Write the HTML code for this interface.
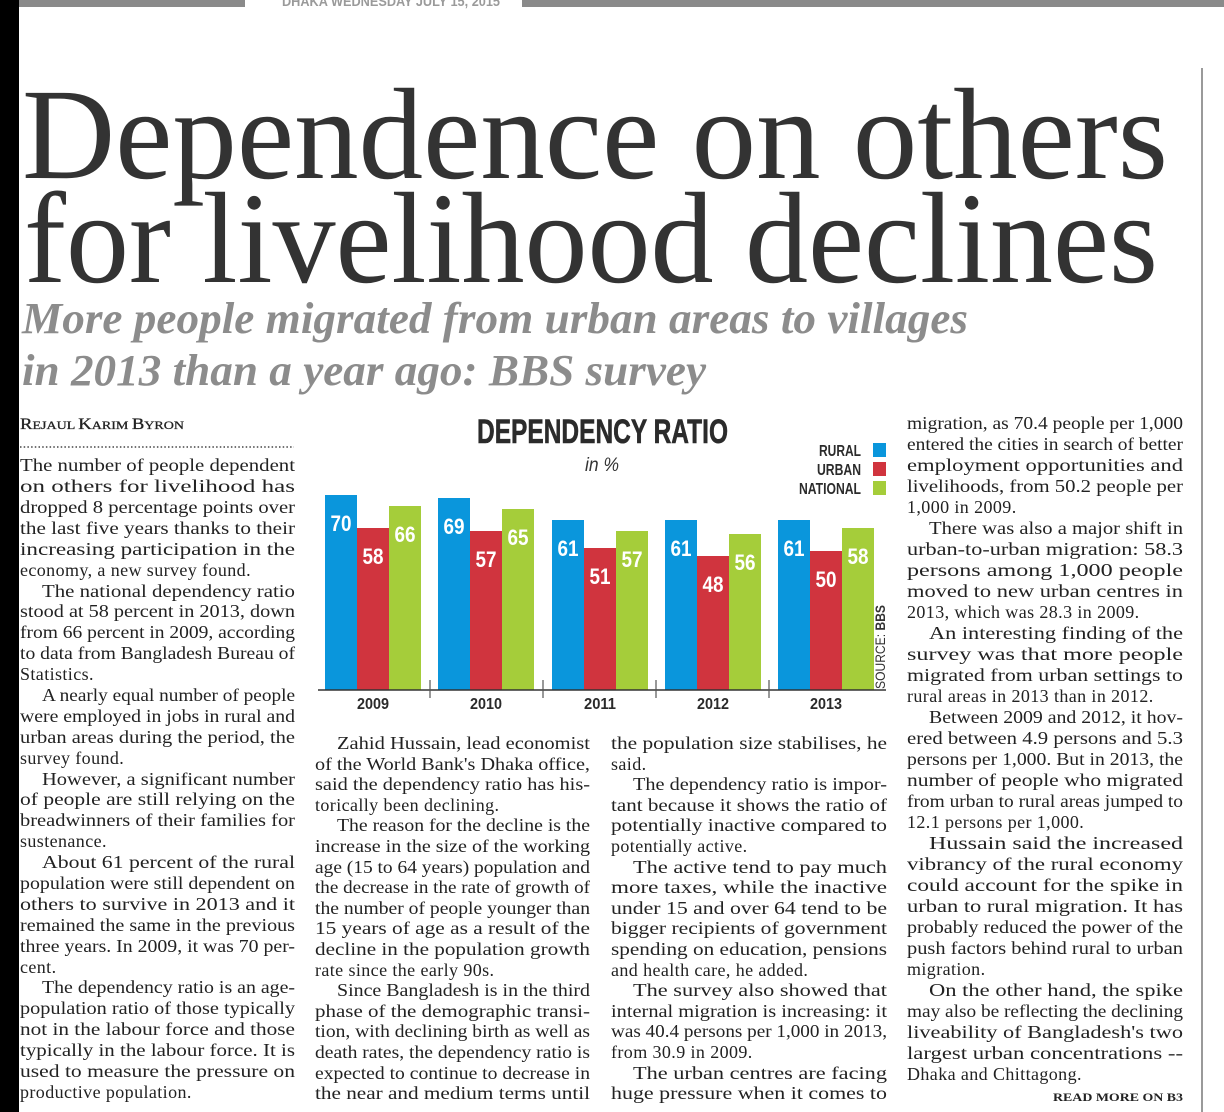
<!DOCTYPE html>
<html><head><meta charset="utf-8"><style>
html,body{margin:0;padding:0;background:#fff;}
svg{display:block;}
.b{font-family:"Liberation Serif",serif;font-size:18px;fill:#222;}
.b text.l{letter-spacing:0.4px;}
.c{font-family:"Liberation Sans",sans-serif;font-weight:bold;}
</style></head><body>
<svg width="1224" height="1112" viewBox="0 0 1224 1112" xmlns="http://www.w3.org/2000/svg">
<rect x="0" y="0" width="1224" height="1112" fill="#fff"/>
<rect x="0" y="0" width="19" height="1112" fill="#000"/>
<rect x="19" y="0" width="226" height="7" fill="#8a8a8a"/>
<rect x="522" y="0" width="702" height="7" fill="#8a8a8a"/>
<text x="282" y="6" class="c" font-size="14" fill="#9a9a9a" textLength="218" lengthAdjust="spacingAndGlyphs">DHAKA WEDNESDAY JULY 15, 2015</text>
<rect x="1201" y="68" width="2" height="1044" fill="#9a9a9a"/>

<text x="22" y="178" font-family="Liberation Serif,serif" font-size="130" fill="#333" textLength="1146" lengthAdjust="spacingAndGlyphs">Dependence on others</text>
<text x="24" y="282" font-family="Liberation Serif,serif" font-size="130" fill="#333" textLength="1134" lengthAdjust="spacingAndGlyphs">for livelihood declines</text>
<text x="22" y="333" font-family="Liberation Serif,serif" font-style="italic" font-weight="bold" font-size="44" fill="#8c8c8c" textLength="946" lengthAdjust="spacingAndGlyphs">More people migrated from urban areas to villages</text>
<text x="22" y="385" font-family="Liberation Serif,serif" font-style="italic" font-weight="bold" font-size="44" fill="#8c8c8c" textLength="684" lengthAdjust="spacingAndGlyphs">in 2013 than a year ago: BBS survey</text>

<text x="20" y="429" font-family="Liberation Serif,serif" font-size="12" fill="#222" stroke="#222" stroke-width="0.3" textLength="164" lengthAdjust="spacingAndGlyphs"><tspan font-size="16">R</tspan>EJAUL <tspan font-size="16">K</tspan>ARIM <tspan font-size="16">B</tspan>YRON</text>
<line x1="20" y1="447" x2="294" y2="447" stroke="#444" stroke-width="1.5" stroke-dasharray="1.5,2.2"/>

<g class="b">
<text x="20" y="471" textLength="275" lengthAdjust="spacingAndGlyphs">The number of people dependent</text>
<text x="20" y="492" textLength="275" lengthAdjust="spacingAndGlyphs">on others for livelihood has</text>
<text x="20" y="513" textLength="275" lengthAdjust="spacingAndGlyphs">dropped 8 percentage points over</text>
<text x="20" y="534" textLength="275" lengthAdjust="spacingAndGlyphs">the last five years thanks to their</text>
<text x="20" y="555" textLength="275" lengthAdjust="spacingAndGlyphs">increasing participation in the</text>
<text class="l" x="20" y="576">economy, a new survey found.</text>
<text x="42" y="597" textLength="253" lengthAdjust="spacingAndGlyphs">The national dependency ratio</text>
<text x="20" y="617" textLength="275" lengthAdjust="spacingAndGlyphs">stood at 58 percent in 2013, down</text>
<text x="20" y="638" textLength="275" lengthAdjust="spacingAndGlyphs">from 66 percent in 2009, according</text>
<text x="20" y="659" textLength="275" lengthAdjust="spacingAndGlyphs">to data from Bangladesh Bureau of</text>
<text class="l" x="20" y="680">Statistics.</text>
<text x="42" y="701" textLength="253" lengthAdjust="spacingAndGlyphs">A nearly equal number of people</text>
<text x="20" y="722" textLength="275" lengthAdjust="spacingAndGlyphs">were employed in jobs in rural and</text>
<text x="20" y="743" textLength="275" lengthAdjust="spacingAndGlyphs">urban areas during the period, the</text>
<text class="l" x="20" y="764">survey found.</text>
<text x="42" y="785" textLength="253" lengthAdjust="spacingAndGlyphs">However, a significant number</text>
<text x="20" y="805" textLength="275" lengthAdjust="spacingAndGlyphs">of people are still relying on the</text>
<text x="20" y="826" textLength="275" lengthAdjust="spacingAndGlyphs">breadwinners of their families for</text>
<text class="l" x="20" y="847">sustenance.</text>
<text x="42" y="868" textLength="253" lengthAdjust="spacingAndGlyphs">About 61 percent of the rural</text>
<text x="20" y="889" textLength="275" lengthAdjust="spacingAndGlyphs">population were still dependent on</text>
<text x="20" y="910" textLength="275" lengthAdjust="spacingAndGlyphs">others to survive in 2013 and it</text>
<text x="20" y="931" textLength="275" lengthAdjust="spacingAndGlyphs">remained the same in the previous</text>
<text x="20" y="952" textLength="275" lengthAdjust="spacingAndGlyphs">three years. In 2009, it was 70 per-</text>
<text class="l" x="20" y="973">cent.</text>
<text x="42" y="993" textLength="253" lengthAdjust="spacingAndGlyphs">The dependency ratio is an age-</text>
<text x="20" y="1014" textLength="275" lengthAdjust="spacingAndGlyphs">population ratio of those typically</text>
<text x="20" y="1035" textLength="275" lengthAdjust="spacingAndGlyphs">not in the labour force and those</text>
<text x="20" y="1056" textLength="275" lengthAdjust="spacingAndGlyphs">typically in the labour force. It is</text>
<text x="20" y="1077" textLength="275" lengthAdjust="spacingAndGlyphs">used to measure the pressure on</text>
<text class="l" x="20" y="1098">productive population.</text>

<text x="337" y="749" textLength="253" lengthAdjust="spacingAndGlyphs">Zahid Hussain, lead economist</text>
<text x="315" y="770" textLength="275" lengthAdjust="spacingAndGlyphs">of the World Bank's Dhaka office,</text>
<text x="315" y="790" textLength="275" lengthAdjust="spacingAndGlyphs">said the dependency ratio has his-</text>
<text class="l" x="315" y="811">torically been declining.</text>
<text x="337" y="831" textLength="253" lengthAdjust="spacingAndGlyphs">The reason for the decline is the</text>
<text x="315" y="852" textLength="275" lengthAdjust="spacingAndGlyphs">increase in the size of the working</text>
<text x="315" y="873" textLength="275" lengthAdjust="spacingAndGlyphs">age (15 to 64 years) population and</text>
<text x="315" y="893" textLength="275" lengthAdjust="spacingAndGlyphs">the decrease in the rate of growth of</text>
<text x="315" y="914" textLength="275" lengthAdjust="spacingAndGlyphs">the number of people younger than</text>
<text x="315" y="934" textLength="275" lengthAdjust="spacingAndGlyphs">15 years of age as a result of the</text>
<text x="315" y="955" textLength="275" lengthAdjust="spacingAndGlyphs">decline in the population growth</text>
<text class="l" x="315" y="976">rate since the early 90s.</text>
<text x="337" y="996" textLength="253" lengthAdjust="spacingAndGlyphs">Since Bangladesh is in the third</text>
<text x="315" y="1017" textLength="275" lengthAdjust="spacingAndGlyphs">phase of the demographic transi-</text>
<text x="315" y="1037" textLength="275" lengthAdjust="spacingAndGlyphs">tion, with declining birth as well as</text>
<text x="315" y="1058" textLength="275" lengthAdjust="spacingAndGlyphs">death rates, the dependency ratio is</text>
<text x="315" y="1079" textLength="275" lengthAdjust="spacingAndGlyphs">expected to continue to decrease in</text>
<text x="315" y="1099" textLength="275" lengthAdjust="spacingAndGlyphs">the near and medium terms until</text>

<text x="611" y="749" textLength="276" lengthAdjust="spacingAndGlyphs">the population size stabilises, he</text>
<text class="l" x="611" y="770">said.</text>
<text x="633" y="790" textLength="254" lengthAdjust="spacingAndGlyphs">The dependency ratio is impor-</text>
<text x="611" y="811" textLength="276" lengthAdjust="spacingAndGlyphs">tant because it shows the ratio of</text>
<text x="611" y="831" textLength="276" lengthAdjust="spacingAndGlyphs">potentially inactive compared to</text>
<text class="l" x="611" y="852">potentially active.</text>
<text x="633" y="873" textLength="254" lengthAdjust="spacingAndGlyphs">The active tend to pay much</text>
<text x="611" y="893" textLength="276" lengthAdjust="spacingAndGlyphs">more taxes, while the inactive</text>
<text x="611" y="914" textLength="276" lengthAdjust="spacingAndGlyphs">under 15 and over 64 tend to be</text>
<text x="611" y="934" textLength="276" lengthAdjust="spacingAndGlyphs">bigger recipients of government</text>
<text x="611" y="955" textLength="276" lengthAdjust="spacingAndGlyphs">spending on education, pensions</text>
<text class="l" x="611" y="976">and health care, he added.</text>
<text x="633" y="996" textLength="254" lengthAdjust="spacingAndGlyphs">The survey also showed that</text>
<text x="611" y="1017" textLength="276" lengthAdjust="spacingAndGlyphs">internal migration is increasing: it</text>
<text x="611" y="1037" textLength="276" lengthAdjust="spacingAndGlyphs">was 40.4 persons per 1,000 in 2013,</text>
<text class="l" x="611" y="1058">from 30.9 in 2009.</text>
<text x="633" y="1079" textLength="254" lengthAdjust="spacingAndGlyphs">The urban centres are facing</text>
<text x="611" y="1099" textLength="276" lengthAdjust="spacingAndGlyphs">huge pressure when it comes to</text>

<text x="907" y="429" textLength="276" lengthAdjust="spacingAndGlyphs">migration, as 70.4 people per 1,000</text>
<text x="907" y="450" textLength="276" lengthAdjust="spacingAndGlyphs">entered the cities in search of better</text>
<text x="907" y="471" textLength="276" lengthAdjust="spacingAndGlyphs">employment opportunities and</text>
<text x="907" y="492" textLength="276" lengthAdjust="spacingAndGlyphs">livelihoods, from 50.2 people per</text>
<text class="l" x="907" y="513">1,000 in 2009.</text>
<text x="929" y="534" textLength="254" lengthAdjust="spacingAndGlyphs">There was also a major shift in</text>
<text x="907" y="555" textLength="276" lengthAdjust="spacingAndGlyphs">urban-to-urban migration: 58.3</text>
<text x="907" y="576" textLength="276" lengthAdjust="spacingAndGlyphs">persons among 1,000 people</text>
<text x="907" y="597" textLength="276" lengthAdjust="spacingAndGlyphs">moved to new urban centres in</text>
<text class="l" x="907" y="618">2013, which was 28.3 in 2009.</text>
<text x="929" y="639" textLength="254" lengthAdjust="spacingAndGlyphs">An interesting finding of the</text>
<text x="907" y="660" textLength="276" lengthAdjust="spacingAndGlyphs">survey was that more people</text>
<text x="907" y="681" textLength="276" lengthAdjust="spacingAndGlyphs">migrated from urban settings to</text>
<text class="l" x="907" y="702">rural areas in 2013 than in 2012.</text>
<text x="929" y="723" textLength="254" lengthAdjust="spacingAndGlyphs">Between 2009 and 2012, it hov-</text>
<text x="907" y="744" textLength="276" lengthAdjust="spacingAndGlyphs">ered between 4.9 persons and 5.3</text>
<text x="907" y="765" textLength="276" lengthAdjust="spacingAndGlyphs">persons per 1,000. But in 2013, the</text>
<text x="907" y="786" textLength="276" lengthAdjust="spacingAndGlyphs">number of people who migrated</text>
<text x="907" y="807" textLength="276" lengthAdjust="spacingAndGlyphs">from urban to rural areas jumped to</text>
<text class="l" x="907" y="828">12.1 persons per 1,000.</text>
<text x="929" y="849" textLength="254" lengthAdjust="spacingAndGlyphs">Hussain said the increased</text>
<text x="907" y="870" textLength="276" lengthAdjust="spacingAndGlyphs">vibrancy of the rural economy</text>
<text x="907" y="891" textLength="276" lengthAdjust="spacingAndGlyphs">could account for the spike in</text>
<text x="907" y="912" textLength="276" lengthAdjust="spacingAndGlyphs">urban to rural migration. It has</text>
<text x="907" y="933" textLength="276" lengthAdjust="spacingAndGlyphs">probably reduced the power of the</text>
<text x="907" y="954" textLength="276" lengthAdjust="spacingAndGlyphs">push factors behind rural to urban</text>
<text class="l" x="907" y="975">migration.</text>
<text x="929" y="996" textLength="254" lengthAdjust="spacingAndGlyphs">On the other hand, the spike</text>
<text x="907" y="1017" textLength="276" lengthAdjust="spacingAndGlyphs">may also be reflecting the declining</text>
<text x="907" y="1038" textLength="276" lengthAdjust="spacingAndGlyphs">liveability of Bangladesh's two</text>
<text x="907" y="1059" textLength="276" lengthAdjust="spacingAndGlyphs">largest urban concentrations --</text>
<text class="l" x="907" y="1080">Dhaka and Chittagong.</text>
</g>
<text x="1183" y="1101" text-anchor="end" font-family="Liberation Serif,serif" font-weight="bold" font-size="12" fill="#222" textLength="130" lengthAdjust="spacingAndGlyphs">READ MORE ON B3</text>

<!-- chart -->
<text x="477" y="443" class="c" font-size="34" fill="#2b2b2b" stroke="#2b2b2b" stroke-width="0.6" textLength="251" lengthAdjust="spacingAndGlyphs">DEPENDENCY RATIO</text>
<text x="602" y="471" text-anchor="middle" font-family="Liberation Sans,sans-serif" font-style="italic" font-size="19" fill="#333" textLength="34" lengthAdjust="spacingAndGlyphs">in %</text>
<text x="861" y="456" text-anchor="end" class="c" font-size="16" fill="#2b2b2b" textLength="42" lengthAdjust="spacingAndGlyphs">RURAL</text>
<text x="861" y="475" text-anchor="end" class="c" font-size="16" fill="#2b2b2b" textLength="44" lengthAdjust="spacingAndGlyphs">URBAN</text>
<text x="861" y="494" text-anchor="end" class="c" font-size="16" fill="#2b2b2b" textLength="62" lengthAdjust="spacingAndGlyphs">NATIONAL</text>
<rect x="873" y="443" width="13" height="14" fill="#0a96dc"/>
<rect x="873" y="462" width="13" height="14" fill="#d0343e"/>
<rect x="873" y="481" width="13" height="14" fill="#a5cd3a"/>

<g>
<rect x="325" y="495" width="32" height="195" fill="#0a96dc"/>
<rect x="357" y="528" width="32" height="162" fill="#d0343e"/>
<rect x="389" y="506" width="32" height="184" fill="#a5cd3a"/>
<rect x="438" y="498" width="32" height="192" fill="#0a96dc"/>
<rect x="470" y="531" width="32" height="159" fill="#d0343e"/>
<rect x="502" y="509" width="32" height="181" fill="#a5cd3a"/>
<rect x="552" y="520" width="32" height="170" fill="#0a96dc"/>
<rect x="584" y="548" width="32" height="142" fill="#d0343e"/>
<rect x="616" y="531" width="32" height="159" fill="#a5cd3a"/>
<rect x="665" y="520" width="32" height="170" fill="#0a96dc"/>
<rect x="697" y="556" width="32" height="134" fill="#d0343e"/>
<rect x="729" y="534" width="32" height="156" fill="#a5cd3a"/>
<rect x="778" y="520" width="32" height="170" fill="#0a96dc"/>
<rect x="810" y="551" width="32" height="139" fill="#d0343e"/>
<rect x="842" y="528" width="32" height="162" fill="#a5cd3a"/>
</g>
<g class="c" font-size="22" fill="#fff" text-anchor="middle">
<text x="341" y="531" textLength="21" lengthAdjust="spacingAndGlyphs">70</text>
<text x="373" y="564" textLength="21" lengthAdjust="spacingAndGlyphs">58</text>
<text x="405" y="542" textLength="21" lengthAdjust="spacingAndGlyphs">66</text>
<text x="454" y="534" textLength="21" lengthAdjust="spacingAndGlyphs">69</text>
<text x="486" y="567" textLength="21" lengthAdjust="spacingAndGlyphs">57</text>
<text x="518" y="545" textLength="21" lengthAdjust="spacingAndGlyphs">65</text>
<text x="568" y="556" textLength="21" lengthAdjust="spacingAndGlyphs">61</text>
<text x="600" y="584" textLength="21" lengthAdjust="spacingAndGlyphs">51</text>
<text x="632" y="567" textLength="21" lengthAdjust="spacingAndGlyphs">57</text>
<text x="681" y="556" textLength="21" lengthAdjust="spacingAndGlyphs">61</text>
<text x="713" y="592" textLength="21" lengthAdjust="spacingAndGlyphs">48</text>
<text x="745" y="570" textLength="21" lengthAdjust="spacingAndGlyphs">56</text>
<text x="794" y="556" textLength="21" lengthAdjust="spacingAndGlyphs">61</text>
<text x="826" y="587" textLength="21" lengthAdjust="spacingAndGlyphs">50</text>
<text x="858" y="564" textLength="21" lengthAdjust="spacingAndGlyphs">58</text>
</g>
<line x1="318" y1="690" x2="886" y2="690" stroke="#333" stroke-width="1.5"/>
<g stroke="#555" stroke-width="1.2">
<line x1="430" y1="680" x2="430" y2="698"/>
<line x1="543" y1="680" x2="543" y2="698"/>
<line x1="656" y1="680" x2="656" y2="698"/>
<line x1="769" y1="680" x2="769" y2="698"/>
</g>
<g class="c" font-size="16" fill="#2b2b2b" text-anchor="middle">
<text x="373" y="709" textLength="32" lengthAdjust="spacingAndGlyphs">2009</text>
<text x="486" y="709" textLength="32" lengthAdjust="spacingAndGlyphs">2010</text>
<text x="600" y="709" textLength="32" lengthAdjust="spacingAndGlyphs">2011</text>
<text x="713" y="709" textLength="32" lengthAdjust="spacingAndGlyphs">2012</text>
<text x="826" y="709" textLength="32" lengthAdjust="spacingAndGlyphs">2013</text>
</g>
<text transform="translate(885,689) rotate(-90)" font-family="Liberation Sans,sans-serif" font-size="14" fill="#333" textLength="84" lengthAdjust="spacingAndGlyphs">SOURCE: <tspan font-weight="bold">BBS</tspan></text>
</svg>
</body></html>
